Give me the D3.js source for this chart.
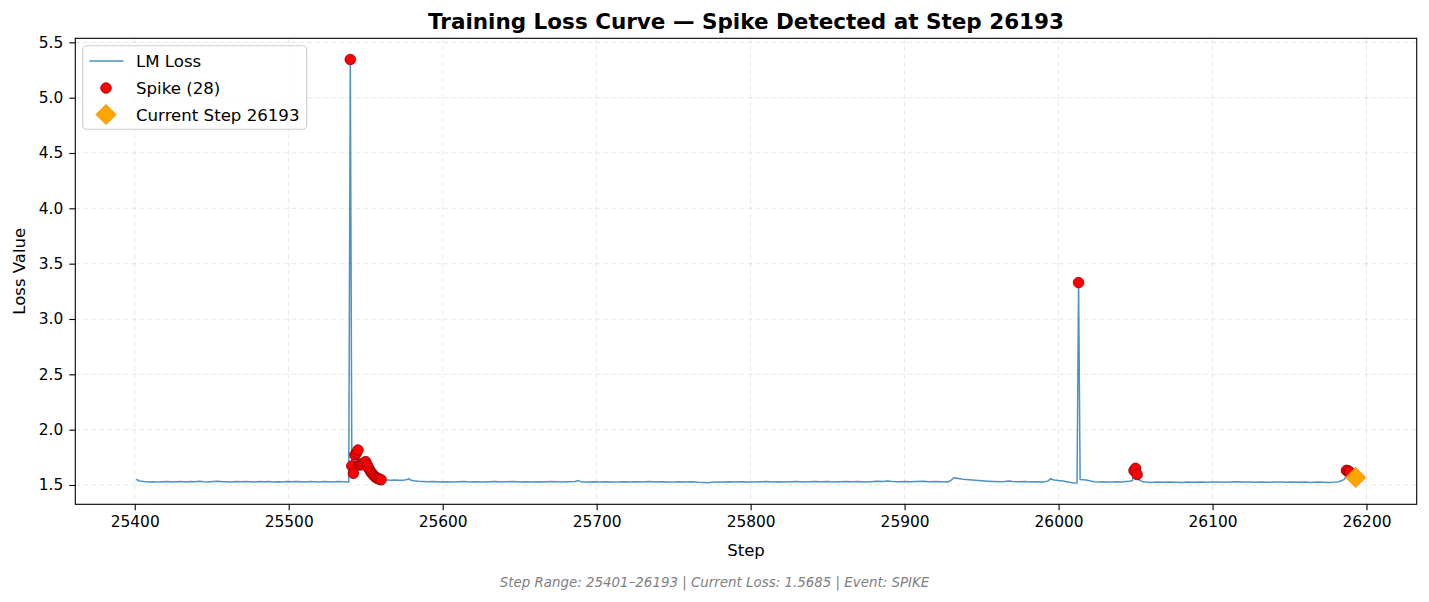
<!DOCTYPE html>
<html><head><meta charset="utf-8">
<script src="https://cdn.jsdelivr.net/npm/d3@7"></script>
<style>
body{margin:0;background:#fff}
text{font-family:"DejaVu Sans",sans-serif;fill:#000}
</style>
</head><body>
<svg id="chart" width="1429" height="602"></svg>
<script>
// ---- data ----
const steps = [25401,25403,25406,25409,25412,25415,25418,25421,25424,25427,25430,25433,25436,25439,25442,25445,25448,25451,25454,25457,25460,25463,25466,25469,25472,25475,25478,25481,25484,25487,25490,25493,25496,25499,25502,25505,25508,25511,25514,25517,25520,25523,25526,25529,25532,25535,25538,25539,
25540,25541,25542,25543,25544,25545,25546,25547,25548,25549,25550,25551,25552,25553,25554,25555,25556,25557,25558,25559,25560,25561,
25563,25566,25569,25572,25575,25577,25578,25579,25581,25584,25587,
25590,25594,25598,25602,25606,25610,25614,25618,25622,25626,25630,25634,25638,25642,25646,25650,25654,25658,25662,25666,25670,25674,25678,25682,25686,25688,25690,25694,25698,25702,25706,25710,25714,25718,25722,25726,25730,25734,25738,25742,25746,25750,25754,25758,25762,25766,25770,25772,25775,25778,25782,25786,25790,25794,25798,25802,25806,25810,25814,25818,25822,25826,25830,25834,25838,25842,25846,25850,25854,25858,25862,25866,25870,25874,25878,25882,25886,25889,25892,25896,25900,25904,25908,25912,25916,25920,25924,25928,
25930,25932,25935,25938,25942,25946,25950,25954,25958,25962,25965,25968,25970,25974,25978,25982,25986,25990,25993,25995,25997,26000,26003,26006,26009,26011,26012,
26013,26014,26016,26018,26020,26023,26026,26029,26032,26035,26038,26041,26044,26046,26048,26049,26050,26051,26052,26054,26057,26060,
26064,26068,26072,26076,26080,26084,26088,26092,26096,26100,26104,26108,26112,26116,26120,26124,26128,26132,26136,26140,26144,26148,26152,26156,26160,26164,26168,26172,26176,26179,26182,26184,26186,
26187,26188,26189,26190,26191,26192,26193];
const loss = [1.552,1.536,1.531,1.527,1.530,1.526,1.529,1.531,1.527,1.530,1.532,1.528,1.531,1.529,1.533,1.530,1.528,1.531,1.533,1.529,1.530,1.527,1.531,1.529,1.532,1.530,1.528,1.531,1.529,1.532,1.528,1.530,1.527,1.531,1.529,1.532,1.530,1.528,1.531,1.529,1.527,1.531,1.530,1.528,1.531,1.529,1.527,1.526,
5.345,1.672,1.606,1.771,1.790,1.816,1.680,1.690,1.685,1.700,1.711,1.680,1.650,1.625,1.606,1.590,1.575,1.565,1.558,1.552,1.548,1.545,
1.547,1.544,1.546,1.543,1.544,1.549,1.558,1.546,1.538,1.533,1.531,
1.529,1.531,1.528,1.530,1.527,1.529,1.531,1.528,1.530,1.527,1.529,1.531,1.528,1.530,1.532,1.528,1.529,1.527,1.530,1.528,1.531,1.529,1.527,1.529,1.531,1.540,1.528,1.526,1.529,1.527,1.530,1.528,1.526,1.529,1.527,1.530,1.528,1.531,1.527,1.529,1.526,1.528,1.530,1.527,1.529,1.525,1.523,1.521,1.525,1.528,1.526,1.529,1.527,1.530,1.528,1.526,1.529,1.531,1.528,1.530,1.527,1.529,1.531,1.528,1.530,1.532,1.529,1.531,1.528,1.530,1.532,1.529,1.531,1.528,1.530,1.533,1.531,1.537,1.532,1.530,1.532,1.529,1.531,1.533,1.530,1.532,1.529,1.527,
1.540,1.566,1.558,1.552,1.547,1.542,1.538,1.534,1.531,1.529,1.531,1.537,1.531,1.529,1.531,1.528,1.530,1.528,1.535,1.557,1.545,1.540,1.536,1.528,1.520,1.517,1.519,
3.329,1.549,1.548,1.546,1.538,1.530,1.527,1.529,1.526,1.528,1.530,1.528,1.531,1.533,1.540,1.630,1.651,1.595,1.548,1.532,1.526,1.523,
1.526,1.524,1.527,1.525,1.523,1.526,1.524,1.527,1.525,1.528,1.526,1.524,1.527,1.529,1.526,1.528,1.525,1.527,1.524,1.526,1.528,1.525,1.527,1.524,1.526,1.523,1.526,1.524,1.522,1.526,1.530,1.540,1.555,
1.632,1.628,1.618,1.600,1.588,1.578,1.5685];
const spikeSteps = [25540,25541,25542,25543,25544,25545,25546,25547,25548,25549,25550,25551,25552,25553,25554,25555,25556,25557,25558,25559,25560,
26013,26049,26050,26051,26187,26188,26189];
const currentStep = 26193;
const currentLoss = 1.5685;
const xTickValues = [25400,25500,25600,25700,25800,25900,26000,26100,26200];
const yTickValues = [1.5,2.0,2.5,3.0,3.5,4.0,4.5,5.0,5.5];
const titleText = "Training Loss Curve \u2014 Spike Detected at Step 26193";
const footerText = "Step Range: 25401\u201326193 | Current Loss: 1.5685 | Event: SPIKE";

// ---- layout ----
const W = 1429, H = 602;
const plot = {left: 75.3, right: 1416.7, top: 38.3, bottom: 504.3};
const svg = d3.select("#chart");
svg.append("rect").attr("width", W).attr("height", H).attr("fill", "#fff");

const series = steps.map((s, i) => ({step: s, loss: loss[i]}));
const xExt = d3.extent(steps), yExt = d3.extent(loss);
const xPad = (xExt[1] - xExt[0]) * 0.05, yPad = (yExt[1] - yExt[0]) * 0.05;
const x = d3.scaleLinear().domain([xExt[0] - xPad, xExt[1] + xPad]).range([plot.left, plot.right]);
const y = d3.scaleLinear().domain([yExt[0] - yPad, yExt[1] + yPad]).range([plot.bottom, plot.top]);

// grid
const grid = svg.append("g");
grid.selectAll(".gx").data(xTickValues).join("line")
  .attr("x1", d => x(d)).attr("x2", d => x(d)).attr("y1", plot.top).attr("y2", plot.bottom)
  .attr("stroke", "#b0b0b0").attr("stroke-opacity", 0.3).attr("stroke-width", 1).attr("stroke-dasharray", "5,3");
grid.selectAll(".gy").data(yTickValues).join("line")
  .attr("x1", plot.left).attr("x2", plot.right).attr("y1", d => y(d)).attr("y2", d => y(d))
  .attr("stroke", "#b0b0b0").attr("stroke-opacity", 0.3).attr("stroke-width", 1).attr("stroke-dasharray", "5,3");

// line
const lineGen = d3.line().x(d => x(d.step)).y(d => y(d.loss));
svg.append("path").datum(series).attr("d", lineGen)
  .attr("fill", "none").attr("stroke", "#1f77b4").attr("stroke-opacity", 0.8)
  .attr("stroke-width", 1.5).attr("stroke-linejoin", "round");

// spikes
const lossByStep = new Map(series.map(d => [d.step, d.loss]));
const spikes = spikeSteps.map(s => ({step: s, loss: lossByStep.get(s)}));
svg.append("g").selectAll("circle").data(spikes).join("circle")
  .attr("cx", d => x(d.step)).attr("cy", d => y(d.loss)).attr("r", 5.3)
  .attr("fill", "#ff0000").attr("stroke", "#8b0000").attr("stroke-width", 0.8);

// current step diamond
const dS = 10;
const diamondPath = (cx, cy, s) => `M${cx},${cy - s}L${cx + s},${cy}L${cx},${cy + s}L${cx - s},${cy}Z`;
svg.append("path").attr("d", diamondPath(x(currentStep), y(currentLoss), dS))
  .attr("fill", "#ffa500").attr("stroke", "#ff8c00").attr("stroke-width", 1);

// axes
const xAxis = svg.append("g").attr("transform", `translate(0,${plot.bottom})`)
  .call(d3.axisBottom(x).tickValues(xTickValues).tickFormat(d3.format("d")).tickSize(6).tickPadding(6));
const yAxis = svg.append("g").attr("transform", `translate(${plot.left},0)`)
  .call(d3.axisLeft(y).tickValues(yTickValues).tickFormat(d3.format(".1f")).tickSize(6).tickPadding(6));
[xAxis, yAxis].forEach(a => {
  a.select(".domain").remove();
  a.selectAll("line").attr("stroke", "#000").attr("stroke-width", 1.1);
  a.selectAll("text").attr("font-size", 15.4).attr("font-family", "DejaVu Sans").attr("fill", "#000");
});
svg.append("rect").attr("x", plot.left).attr("y", plot.top)
  .attr("width", plot.right - plot.left).attr("height", plot.bottom - plot.top)
  .attr("fill", "none").attr("stroke", "#000").attr("stroke-width", 1.1);

// labels
svg.append("text").attr("x", (plot.left + plot.right) / 2).attr("y", 29)
  .attr("text-anchor", "middle").attr("font-size", 21.5).attr("font-weight", "bold").text(titleText);
svg.append("text").attr("x", (plot.left + plot.right) / 2).attr("y", 556)
  .attr("text-anchor", "middle").attr("font-size", 16.5).text("Step");
svg.append("text").attr("transform", `translate(25,${(plot.top + plot.bottom) / 2}) rotate(-90)`)
  .attr("text-anchor", "middle").attr("font-size", 16.5).text("Loss Value");
svg.append("text").attr("x", W / 2).attr("y", 587)
  .attr("text-anchor", "middle").attr("font-size", 13.4).attr("font-style", "italic")
  .style("fill", "#808080").text(footerText);

// legend
const lg = svg.append("g");
lg.append("rect").attr("x", 82.7).attr("y", 45.7).attr("width", 224).attr("height", 83.6)
  .attr("rx", 4).attr("fill", "#fff").attr("fill-opacity", 0.8).attr("stroke", "#cccccc").attr("stroke-width", 1.1);
const legendItems = [
  {label: "LM Loss", type: "line", cy: 61},
  {label: `Spike (${spikeSteps.length})`, type: "dot", cy: 88},
  {label: `Current Step ${currentStep}`, type: "diamond", cy: 114.5}
];
legendItems.forEach(it => {
  if (it.type === "line") {
    lg.append("line").attr("x1", 89.3).attr("x2", 123.3).attr("y1", it.cy).attr("y2", it.cy)
      .attr("stroke", "#1f77b4").attr("stroke-opacity", 0.8).attr("stroke-width", 1.5);
  } else if (it.type === "dot") {
    lg.append("circle").attr("cx", 106).attr("cy", it.cy).attr("r", 5.3)
      .attr("fill", "#ff0000").attr("stroke", "#8b0000").attr("stroke-width", 0.8);
  } else {
    lg.append("path").attr("d", diamondPath(106, it.cy, dS))
      .attr("fill", "#ffa500").attr("stroke", "#ff8c00").attr("stroke-width", 1);
  }
  lg.append("text").attr("x", 136).attr("y", it.cy + 6).attr("font-size", 16.6).text(it.label);
});
</script>
</body></html>
